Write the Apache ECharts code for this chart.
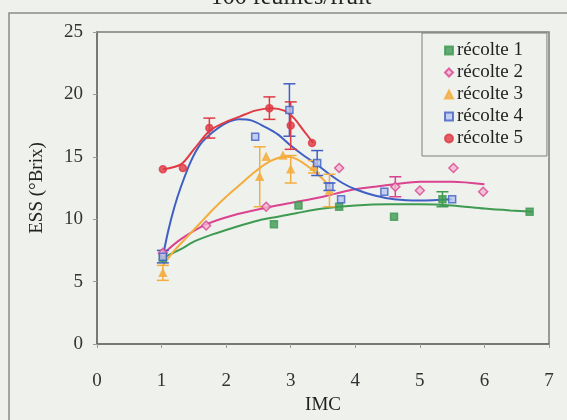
<!DOCTYPE html>
<html lang="fr">
<head>
<meta charset="UTF-8">
<title>ESS / IMC</title>
<script src="https://cdn.jsdelivr.net/npm/echarts@6/dist/echarts.min.js"></script>
<style>
    html, body { margin: 0; padding: 0; background: #eff1ed; }
    #chart { width: 567px; height: 420px; }
</style>
</head>
<body>
<div id="chart"></div>
<script>
    const names = ['récolte 1', 'récolte 2', 'récolte 3', 'récolte 4', 'récolte 5'];

    // mesures : [IMC, ESS, écart]
    const pts1 = [[1.02, 6.9, 0], [2.74, 9.6, 0], [3.12, 11.1, 0], [3.75, 11.0, 0], [4.6, 10.2, 0], [5.35, 11.6, 0.6], [6.7, 10.6, 0]];
    const pts2 = [[1.02, 7.3, 0], [1.69, 9.5, 0], [2.62, 11.0, 0], [3.75, 14.1, 0], [4.62, 12.6, 0.8], [5.0, 12.3, 0], [5.52, 14.1, 0], [5.98, 12.2, 0]];
    const pts3 = [[1.02, 5.7, 0.6], [2.52, 13.4, 2.4], [2.62, 15.0, 0], [2.88, 15.1, 0], [3.0, 14.0, 1.1], [3.36, 14.2, 0.5], [3.6, 12.3, 1.3]];
    const pts4 = [[1.02, 7.0, 0.5], [2.45, 16.6, 0], [2.98, 18.75, 2.1], [3.41, 14.5, 1.0], [3.6, 12.6, 0.3], [3.78, 11.6, 0], [4.45, 12.2, 0], [5.5, 11.6, 0]];
    const pts5 = [[1.02, 14.0, 0], [1.33, 14.1, 0], [1.74, 17.3, 0.8], [2.67, 18.9, 0.9], [3.0, 17.5, 1.9], [3.33, 16.1, 0]];

    // courbes de tendance
    const fitX1 = [1.02, 1.3, 1.5, 1.8, 2.1, 2.5, 2.8, 3.1, 3.5, 4.0, 4.5, 5.0, 5.5, 6.0, 6.4, 6.75];
    const fitY1 = [6.9, 7.6, 8.2, 8.8, 9.3, 9.9, 10.2, 10.5, 10.85, 11.1, 11.2, 11.2, 11.1, 10.85, 10.7, 10.6];
    const fitX2 = [1.02, 1.3, 1.7, 2.1, 2.6, 3.0, 3.5, 3.9, 4.3, 4.6, 5.0, 5.5, 6.0];
    const fitY2 = [7.2, 8.4, 9.6, 10.3, 10.9, 11.3, 11.8, 12.3, 12.6, 12.8, 13.0, 13.0, 12.8];
    const fitX3 = [1.02, 1.2, 1.4, 1.6, 1.8, 2.0, 2.2, 2.4, 2.6, 2.8, 2.95, 3.1, 3.3, 3.5, 3.6];
    const fitY3 = [6.3, 7.5, 8.6, 9.7, 10.8, 11.8, 12.7, 13.6, 14.4, 14.9, 15.0, 14.8, 14.1, 13.2, 12.6];
    const fitX4 = [1.02, 1.1, 1.2, 1.3, 1.45, 1.6, 1.8, 2.0, 2.2, 2.4, 2.6, 2.8, 3.0, 3.2, 3.4, 3.6, 3.8, 4.0, 4.3, 4.6, 5.0, 5.5];
    const fitY4 = [7.0, 9.0, 11.0, 12.6, 14.6, 16.0, 17.0, 17.7, 18.0, 17.9, 17.4, 16.8, 15.9, 15.1, 14.4, 13.6, 12.9, 12.4, 11.9, 11.6, 11.5, 11.6];
    const fitX5 = [1.02, 1.3, 1.5, 1.75, 2.0, 2.2, 2.45, 2.7, 2.9, 3.05, 3.2, 3.35];
    const fitY5 = [14.0, 14.4, 15.6, 17.1, 17.8, 18.2, 18.7, 18.9, 18.7, 18.1, 17.1, 16.1];

    const colors = ['#3f9a52', '#d9438f', '#f4ad3d', '#3f5fc4', '#e03a43'];
    const fills = ['#3f9a52', '#f3b6d3', '#f4ad3d', '#b9c6ee', '#e03a43'];
    const symbols = ['rect', 'diamond', 'triangle', 'rect', 'circle'];
    const pts = [pts1, pts2, pts3, pts4, pts5];
    const fitX = [fitX1, fitX2, fitX3, fitX4, fitX5];
    const fitY = [fitY1, fitY2, fitY3, fitY4, fitY5];

    const font = 'Liberation Serif, Times New Roman, serif';
    const chart = echarts.init(document.getElementById('chart'));

    function errorBars(color) {
        return function (params, api) {
            const x = api.value(0), y = api.value(1), e = api.value(2);
            if (!e) return;
            const top = api.coord([x, y + e]);
            const bot = api.coord([x, y - e]);
            const w = 6;
            const st = { stroke: color, lineWidth: 1.5 };
            return {
                type: 'group',
                children: [
                    { type: 'line', shape: { x1: top[0], y1: top[1], x2: bot[0], y2: bot[1] }, style: st },
                    { type: 'line', shape: { x1: top[0] - w, y1: top[1], x2: top[0] + w, y2: top[1] }, style: st },
                    { type: 'line', shape: { x1: bot[0] - w, y1: bot[1], x2: bot[0] + w, y2: bot[1] }, style: st }
                ]
            };
        };
    }

    const series = [];
    for (let i = 0; i < 5; i++) {
        series.push({
            name: 'tendance ' + (i + 1),
            type: 'line',
            smooth: 0.3,
            showSymbol: false,
            silent: true,
            z: 2,
            lineStyle: { color: colors[i], width: 2 },
            data: fitX[i].map((x, k) => [x, fitY[i][k]])
        });
        series.push({
            name: 'erreur ' + (i + 1),
            type: 'custom',
            z: 3,
            renderItem: errorBars(colors[i]),
            encode: { x: 0, y: 1 },
            data: pts[i]
        });
        series.push({
            name: names[i],
            type: 'scatter',
            z: 4,
            symbol: symbols[i],
            symbolSize: symbols[i] === 'diamond' ? 9 : 7,
            itemStyle: { color: fills[i], borderColor: colors[i], borderWidth: 1.5 },
            data: pts[i].map(p => [p[0], p[1]])
        });
    }

    const option = {
        backgroundColor: '#eff1ed',
        animation: false,
        graphic: [
            {
                type: 'rect',
                shape: { x: 9, y: 13, width: 600, height: 450 },
                style: { fill: 'none', stroke: '#8a8c88', lineWidth: 1.5 },
                silent: true
            },
            {
                type: 'text',
                style: {
                    text: '100 feuilles/fruit', x: 291, y: 10,
                    textAlign: 'center', textVerticalAlign: 'bottom',
                    font: '24px ' + font, fill: '#222'
                },
                silent: true
            }
        ],
        grid: {
            left: 97, right: 18, top: 32, bottom: 72,
            show: true, borderColor: '#7c7e7a', borderWidth: 1.5, backgroundColor: 'transparent'
        },
        legend: {
            data: names,
            orient: 'vertical',
            left: 422, top: 33,
            padding: [8, 24, 8, 22],
            itemGap: 3,
            itemWidth: 8, itemHeight: 8,
            borderColor: '#7c7e7a', borderWidth: 1,
            backgroundColor: '#eff1ed',
            textStyle: { fontFamily: font, fontSize: 19, lineHeight: 19, color: '#222', padding: [0, 0, 0, -1] }
        },
        xAxis: {
            type: 'value', min: 0, max: 7, interval: 1,
            name: 'IMC', nameLocation: 'middle', nameGap: 52,
            nameTextStyle: { fontFamily: font, fontSize: 19, color: '#222' },
            axisLine: { show: true, lineStyle: { color: '#6c6e6a', width: 1.5 } },
            axisTick: { show: true, length: 4, lineStyle: { color: '#9a9c98' } },
            splitLine: { show: false },
            axisLabel: { fontFamily: font, fontSize: 19, color: '#333', margin: 28 }
        },
        yAxis: {
            type: 'value', min: 0, max: 25, interval: 5,
            name: 'ESS (°Brix)', nameLocation: 'middle', nameGap: 50,
            nameTextStyle: { fontFamily: font, fontSize: 19, color: '#222' },
            axisLine: { show: true, lineStyle: { color: '#6c6e6a', width: 1.5 } },
            axisTick: { show: true, length: 4, lineStyle: { color: '#9a9c98' } },
            splitLine: { show: false },
            axisLabel: { fontFamily: font, fontSize: 19, color: '#333', margin: 14 }
        },
        series: series
    };
    chart.setOption(option);
</script>
</body>
</html>
